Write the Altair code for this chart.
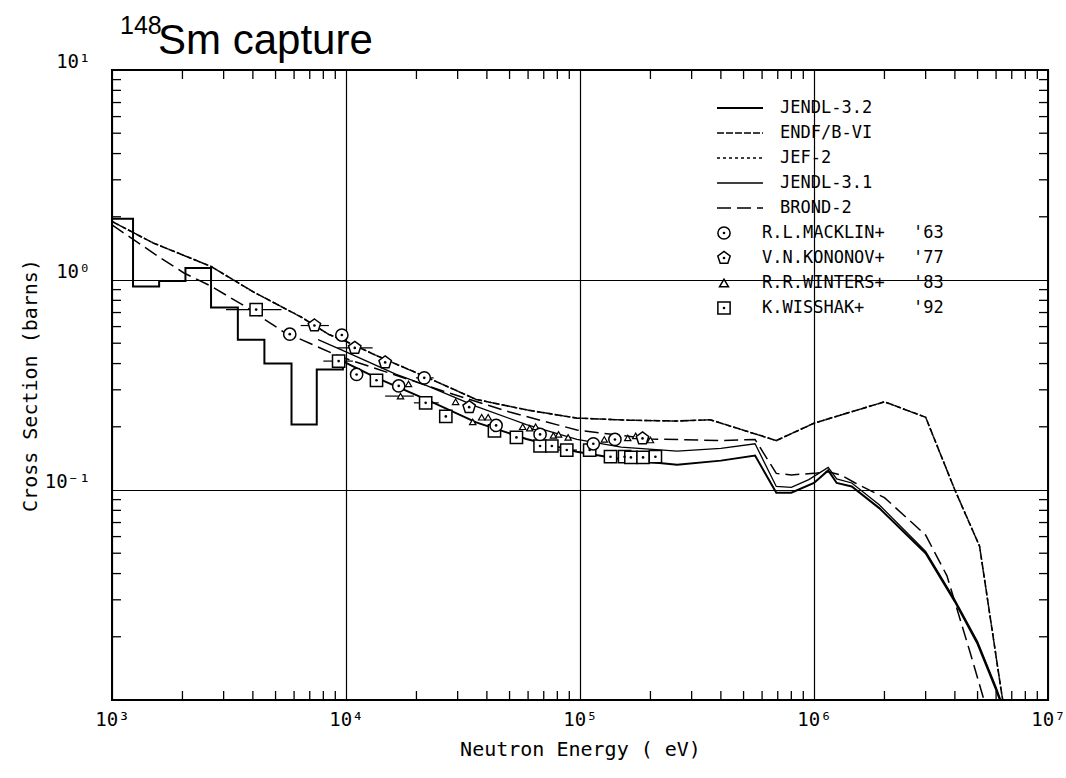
import altair as alt
import pandas as pd

# ---------------- data ----------------
# ENDF/B-VI and JEF-2 (coincident upper curve)
endf_E = [1000, 1500, 2650, 4000, 6450, 8450, 10000, 13300, 22000, 36000, 60000, 97000,
          160000, 260000, 360000, 690000, 1000000, 2000000, 3000000, 4000000, 5100000,
          6300000, 6500000]
endf_s = [1.90, 1.50, 1.16, 0.88, 0.665, 0.55, 0.51, 0.44, 0.345, 0.27, 0.24, 0.22,
          0.215, 0.213, 0.216, 0.172, 0.208, 0.263, 0.222, 0.100, 0.054, 0.0112, 0.009]
jef_E = endf_E
jef_s = endf_s

# JENDL-3.2 (histogram in resonance region, then smooth)
j32_E = [1000, 1230, 1230, 1590, 1590, 2060, 2060, 2650, 2650, 3450, 3450, 4480, 4480,
         5850, 5850, 7500, 7500, 9700, 9700, 13300, 22000, 36000, 59000, 97000, 150000,
         260000, 400000, 560000, 690000, 800000, 1000000, 1150000, 1250000, 1450000,
         1900000, 3000000, 4000000, 5000000, 6000000, 6500000]
j32_s = [1.96, 1.96, 0.93, 0.93, 0.99, 0.99, 1.14, 1.14, 0.74, 0.74, 0.52, 0.52, 0.40,
         0.40, 0.205, 0.205, 0.375, 0.375, 0.41, 0.345, 0.27, 0.21, 0.175, 0.152, 0.14,
         0.132, 0.138, 0.146, 0.097, 0.097, 0.108, 0.124, 0.108, 0.104,
         0.082, 0.050, 0.0294, 0.0185, 0.0112, 0.0088]

# JENDL-3.1
j31_E = [7600, 10000, 16300, 22000, 36000, 59000, 97000, 150000, 260000, 400000, 560000,
         690000, 800000, 950000, 1150000, 1250000, 1450000, 1900000, 3000000, 4000000,
         5000000, 6000000, 6500000]
j31_s = [0.52, 0.455, 0.356, 0.315, 0.25, 0.205, 0.174, 0.16, 0.153, 0.158, 0.166,
         0.104, 0.103, 0.112, 0.128, 0.113, 0.108, 0.085, 0.051, 0.030,
         0.019, 0.0115, 0.009]

# BROND-2
br_E = [1000, 1600, 2030, 2650, 3660, 5400, 9500, 16000, 25000, 50000, 97000, 200000,
        400000, 560000, 690000, 800000, 1000000, 1150000, 1300000, 1500000, 2000000,
        3000000, 3700000, 4600000, 5400000]
br_s = [1.83, 1.28, 1.08, 0.935, 0.755, 0.567, 0.43, 0.355, 0.30, 0.235, 0.193, 0.175,
        0.172, 0.174, 0.12, 0.118, 0.12, 0.122, 0.118, 0.108, 0.092,
        0.061, 0.039, 0.0175, 0.0095]

# Experimental data
mack_E = [5750, 9600, 11100, 16800, 21600, 43800, 67500, 114000, 141000]
mack_s = [0.552, 0.547, 0.355, 0.313, 0.342, 0.203, 0.184, 0.166, 0.174]
kono_E = [7330, 10900, 14700, 33600, 185000]
kono_s = [0.607, 0.475, 0.405, 0.248, 0.176]
wint_E = [18500, 17100, 29400, 34800, 38000, 40500, 56900, 61000, 64600, 77000, 81000,
          89000, 127000, 160000, 173000, 200000]
wint_s = [0.32, 0.28, 0.263, 0.211, 0.222, 0.222, 0.20, 0.197, 0.20, 0.182, 0.184,
          0.178, 0.174, 0.177, 0.181, 0.173]
wiss_E = [4130, 9300, 13500, 21900, 26700, 43100, 53500, 67500, 75800, 87800, 110000,
          135000, 155000, 165000, 186000, 210000]
wiss_s = [0.723, 0.411, 0.333, 0.26, 0.224, 0.191, 0.178, 0.162, 0.162, 0.155, 0.155,
          0.144, 0.144, 0.143, 0.143, 0.144]

# horizontal error bars (energy resolution)
err_lo = [3070, 6400, 9200, 8000, 19900, 14700, 19500, 79000]
err_hi = [5300, 8450, 13000, 10700, 23700, 19500, 24900, 97000]
err_s = [0.723, 0.607, 0.475, 0.411, 0.342, 0.28, 0.26, 0.155]

x_major = [1e3, 1e4, 1e5, 1e6, 1e7]
y_major = [0.1, 1.0, 10.0]
x_minor = [k * 10 ** p for p in range(3, 7) for k in range(2, 10)]
y_minor = [k * 10.0 ** p for p in range(-2, 1) for k in range(2, 10)]

legend_lines = ["JENDL-3.2", "ENDF/B-VI", "JEF-2", "JENDL-3.1", "BROND-2"]
legend_points = ["R.L.MACKLIN+", "V.N.KONONOV+", "R.R.WINTERS+", "K.WISSHAK+"]
legend_years = ["'63", "'77", "'83", "'92"]

# ---------------- chart ----------------
W, H = 936, 630
FONT = "DejaVu Sans Mono"
xs = alt.Scale(type="log", domain=[1e3, 1e7], nice=False)
ys = alt.Scale(type="log", domain=[1e-2, 1e1], nice=False)
PENT = "M0,-1L0.951,-0.309L0.588,0.809L-0.588,0.809L-0.951,-0.309Z"

label_arr = ("['10\u207b\u00b2','10\u207b\u00b9','10\u2070','10\u00b9','10\u00b2',"
             "'10\u00b3','10\u2074','10\u2075','10\u2076','10\u2077']")
label_expr = label_arr + "[round(log(datum.value)/LN10)+2]"

AX = alt.Axis(values=x_major, grid=True, gridColor="black", gridWidth=1.2, gridOpacity=1,
              ticks=False, domain=False, labelExpr=label_expr, labelFont=FONT,
              labelFontSize=19, labelColor="black", labelPadding=10, labelFlush=False,
              title="Neutron Energy ( eV)", titleFont=FONT, titleFontSize=20,
              titleFontWeight="normal", titleColor="black", titleY=55,
              titleBaseline="alphabetic")
AY = alt.Axis(values=y_major, grid=True, gridColor="black", gridWidth=1.2, gridOpacity=1,
              ticks=False, domain=False, labelExpr=label_expr, labelFont=FONT,
              labelFontSize=19, labelColor="black", labelPadding=22, labelOffset=-9,
              labelFlush=False, title="Cross Section (barns)", titleFont=FONT,
              titleFontSize=20, titleFontWeight="normal", titleColor="black",
              titleX=-82, titleY=H / 2, titleAngle=-90, titleBaseline="middle")


def X(f):
    return alt.X(f, scale=xs, axis=AX)


def Y(f):
    return alt.Y(f, scale=ys, axis=AY)


styles = {
    "JENDL-3.2": dict(strokeWidth=2.0),
    "ENDF/B-VI": dict(strokeWidth=1.6, strokeDash=[7, 2]),
    "JEF-2": dict(strokeWidth=1.4, strokeDash=[3, 3]),
    "JENDL-3.1": dict(strokeWidth=1.3),
    "BROND-2": dict(strokeWidth=1.5, strokeDash=[14, 6]),
}
series = {
    "JENDL-3.2": (j32_E, j32_s),
    "ENDF/B-VI": (endf_E, endf_s),
    "JEF-2": (jef_E, jef_s),
    "JENDL-3.1": (j31_E, j31_s),
    "BROND-2": (br_E, br_s),
}

layers = []

# evaluated curves
for name, (E, s) in series.items():
    df = pd.DataFrame({"E": E, "sigma": s, "i": list(range(len(E)))})
    layers.append(alt.Chart(df).mark_line(color="black", clip=True, **styles[name]).encode(
        x=X("E:Q"), y=Y("sigma:Q"), order="i:Q"))

# minor ticks inside the frame
bt = pd.DataFrame({"E": x_minor})
layers.append(alt.Chart(bt).mark_rule(color="black", strokeWidth=1.3).encode(
    x=X("E:Q"), y=alt.value(H), y2=alt.value(H - 9)))
layers.append(alt.Chart(bt).mark_rule(color="black", strokeWidth=1.3).encode(
    x=X("E:Q"), y=alt.value(0), y2=alt.value(9)))
lt = pd.DataFrame({"s": y_minor})
layers.append(alt.Chart(lt).mark_rule(color="black", strokeWidth=1.3).encode(
    y=Y("s:Q"), x=alt.value(0), x2=alt.value(9)))
layers.append(alt.Chart(lt).mark_rule(color="black", strokeWidth=1.3).encode(
    y=Y("s:Q"), x=alt.value(W), x2=alt.value(W - 9)))

# error bars
edf = pd.DataFrame({"lo": err_lo, "hi": err_hi, "s": err_s})
layers.append(alt.Chart(edf).mark_rule(color="black", strokeWidth=1.2).encode(
    x=X("lo:Q"), x2="hi:Q", y=Y("s:Q")))


def pts(E, s, shape, size, dot=False, sw=1.5):
    df = pd.DataFrame({"E": E, "s": s})
    base = alt.Chart(df).encode(x=X("E:Q"), y=Y("s:Q"))
    out = [base.mark_point(shape=shape, size=size, filled=True, fill="white",
                           stroke="black", strokeWidth=sw, opacity=1)]
    if dot:
        out.append(base.mark_point(shape="circle", size=7, filled=True,
                                   color="black", opacity=1))
    return out


layers += pts(wint_E, wint_s, "triangle-up", 40, sw=1.2)
layers += pts(wiss_E, wiss_s, "square", 150, dot=True)
layers += pts(mack_E, mack_s, "circle", 150, dot=True)
layers += pts(kono_E, kono_s, PENT, 170, dot=True)

# ---------------- legend ----------------
LX0, LX1, LTX = 605, 651, 668
for k, name in enumerate(legend_lines):
    yy = 38 + 25 * k
    d = pd.DataFrame({"t": [name]})
    layers.append(alt.Chart(d).mark_rule(color="black", **styles[name]).encode(
        x=alt.value(LX0), x2=alt.value(LX1), y=alt.value(yy)))
    layers.append(alt.Chart(d).mark_text(font=FONT, fontSize=17, align="left",
                                         baseline="middle", color="black").encode(
        text="t:N", x=alt.value(LTX), y=alt.value(yy)))

pshapes = [("circle", 150, True), (PENT, 170, True), ("triangle-up", 80, False),
           ("square", 150, True)]
for k, name in enumerate(legend_points):
    yy = 163 + 25 * k
    d = pd.DataFrame({"t": [name], "yr": [legend_years[k]]})
    shp, sz, dot = pshapes[k]
    layers.append(alt.Chart(d).mark_point(shape=shp, size=sz, filled=True, fill="white",
                                          stroke="black", strokeWidth=1.5, opacity=1).encode(
        x=alt.value(612), y=alt.value(yy)))
    if dot:
        layers.append(alt.Chart(d).mark_point(shape="circle", size=7, filled=True,
                                              color="black", opacity=1).encode(
            x=alt.value(612), y=alt.value(yy)))
    layers.append(alt.Chart(d).mark_text(font=FONT, fontSize=17, align="left",
                                         baseline="middle", color="black").encode(
        text="t:N", x=alt.value(650), y=alt.value(yy)))
    layers.append(alt.Chart(d).mark_text(font=FONT, fontSize=17, align="left",
                                         baseline="middle", color="black").encode(
        text="yr:N", x=alt.value(801), y=alt.value(yy)))

# ---------------- title ----------------
tdf = pd.DataFrame({"a": ["148"], "b": ["Sm capture"]})
layers.append(alt.Chart(tdf).mark_text(font="Liberation Sans", fontSize=25, align="left",
                                       baseline="alphabetic", color="black").encode(
    text="a:N", x=alt.value(8), y=alt.value(-36)))
layers.append(alt.Chart(tdf).mark_text(font="Liberation Sans", fontSize=42, align="left",
                                       baseline="alphabetic", color="black").encode(
    text="b:N", x=alt.value(46), y=alt.value(-16)))

chart = alt.layer(*layers).properties(
    width=W, height=H,
    autosize=alt.AutoSizeParams(type="none"),
    padding={"left": 112, "top": 70, "right": 18, "bottom": 78},
    background="white",
).configure_view(stroke="black", strokeWidth=2)

chart.save("out.html", embed_options={"renderer": "svg", "actions": False})
